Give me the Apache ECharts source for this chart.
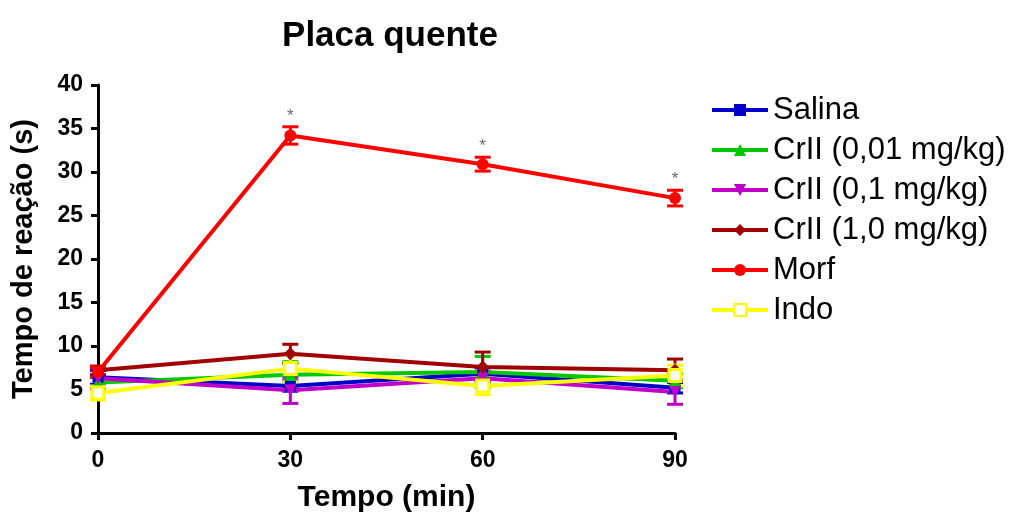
<!DOCTYPE html>
<html>
<head>
<meta charset="utf-8">
<script src="https://cdn.jsdelivr.net/npm/echarts@6/dist/echarts.min.js"></script>
<style>
  html, body { margin: 0; padding: 0; background: #fff; }
  #chart { width: 1019px; height: 518px; }
</style>
</head>
<body>
<div id="chart"></div>
<script>
// Time points (min)
const times = [0, 30, 60, 90];
const yTicks = [0, 5, 10, 15, 20, 25, 30, 35, 40];

// Mean reaction time (s) and SEM per group
const salina = [6.4, 5.4, 6.8, 5.2];
const salinaErr = [0.8, 0.6, 0.7, 0.6];
const crii001 = [5.8, 6.7, 7.0, 6.0];
const crii001Err = [0.6, 1.5, 1.8, 0.8];
const crii01 = [6.3, 4.9, 6.3, 4.7];
const crii01Err = [1.2, 1.5, 0.8, 1.4];
const crii10 = [7.2, 9.1, 7.6, 7.2];
const crii10Err = [0.5, 1.1, 1.7, 1.3];
const morf = [7.0, 34.2, 30.9, 27.0];
const morfErr = [0.6, 1.0, 0.8, 0.9];
const indo = [4.6, 7.4, 5.4, 6.6];
const indoErr = [0.8, 1.5, 1.0, 1.2];
// Significance marks above Morf
const morfSig = ['', '*', '*', '*'];

const groups = [
  { name: 'Salina', mean: salina, err: salinaErr, color: '#0000c8', symbol: 'rect', size: 11 },
  { name: 'CrII (0,01 mg/kg)', mean: crii001, err: crii001Err, color: '#00c800', symbol: 'triangle', size: 12 },
  { name: 'CrII (0,1 mg/kg)', mean: crii01, err: crii01Err, color: '#c000c8', symbol: 'triangle', size: 12, rotate: 180 },
  { name: 'CrII (1,0 mg/kg)', mean: crii10, err: crii10Err, color: '#a00000', symbol: 'diamond', size: 13 },
  { name: 'Morf', mean: morf, err: morfErr, color: '#ff0000', symbol: 'circle', size: 12 },
  { name: 'Indo', mean: indo, err: indoErr, color: '#ffff00', symbol: 'rect', size: 12, hollow: true }
];

const series = [];
groups.forEach(function (g) {
  // error bars with caps
  series.push({
    type: 'custom',
    name: g.name + ' SEM',
    silent: true,
    z: 2,
    data: times.map(function (t, i) { return [t, g.mean[i] - g.err[i], g.mean[i] + g.err[i]]; }),
    renderItem: function (params, api) {
      const lo = api.coord([api.value(0), api.value(1)]);
      const hi = api.coord([api.value(0), api.value(2)]);
      const cap = 8;
      const st = { stroke: g.color, lineWidth: 3 };
      return {
        type: 'group',
        children: [
          { type: 'line', shape: { x1: lo[0], y1: lo[1], x2: hi[0], y2: hi[1] }, style: st },
          { type: 'line', shape: { x1: lo[0] - cap, y1: lo[1], x2: lo[0] + cap, y2: lo[1] }, style: st },
          { type: 'line', shape: { x1: hi[0] - cap, y1: hi[1], x2: hi[0] + cap, y2: hi[1] }, style: st }
        ]
      };
    }
  });
  series.push({
    type: 'line',
    name: g.name,
    z: 3,
    data: times.map(function (t, i) { return [t, g.mean[i]]; }),
    symbol: g.symbol,
    symbolSize: g.size,
    symbolRotate: g.rotate || 0,
    showAllSymbol: true,
    lineStyle: { color: g.color, width: 4 },
    itemStyle: g.hollow
      ? { color: '#ffffff', borderColor: g.color, borderWidth: 3 }
      : { color: g.color },
    emphasis: { disabled: true }
  });
});

// asterisks above the Morf error bars
series.push({
  type: 'scatter',
  name: 'sig',
  silent: true,
  symbolSize: 0,
  z: 5,
  data: times.map(function (t, i) { return [t, morf[i] + morfErr[i]]; }),
  label: {
    show: true,
    position: 'top',
    distance: 2,
    color: '#444',
    fontSize: 17,
    fontFamily: 'Liberation Sans, Arial, sans-serif',
    formatter: function (p) { return morfSig[p.dataIndex]; }
  }
});

const chart = echarts.init(document.getElementById('chart'));
chart.setOption({
  animation: false,
  backgroundColor: '#ffffff',
  textStyle: { fontFamily: 'Liberation Sans, Arial, sans-serif' },
  title: {
    text: 'Placa quente',
    left: 385,
    top: 14,
    textAlign: 'center',
    textStyle: { fontSize: 35, fontWeight: 'bold', color: '#000' }
  },
  grid: { left: 98, right: 344, top: 85, bottom: 83 },
  legend: {
    data: groups.map(function (g) { return g.name; }),
    orient: 'vertical',
    left: 705,
    top: 89,
    itemWidth: 56,
    itemHeight: 15,
    itemGap: 8,
    selectedMode: false,
    lineStyle: { width: 4 },
    textStyle: { fontSize: 31, lineHeight: 32, color: '#000', padding: [0, 0, 0, 0] }
  },
  xAxis: {
    type: 'value',
    min: 0,
    max: 90,
    interval: 30,
    name: 'Tempo (min)',
    nameLocation: 'middle',
    nameGap: 50,
    nameTextStyle: { fontSize: 30, fontWeight: 'bold', color: '#000' },
    axisLine: { show: true, onZero: false, lineStyle: { color: '#000', width: 3 } },
    axisTick: { show: true, length: 7, lineStyle: { color: '#000', width: 3 } },
    axisLabel: {
      fontSize: 23, fontWeight: 'bold', color: '#000', margin: 16,
      formatter: function (v) { return String(times[times.indexOf(v)]); }
    },
    splitLine: { show: false }
  },
  yAxis: {
    type: 'value',
    min: 0,
    max: 40,
    interval: 5,
    name: 'Tempo de reação (s)',
    nameLocation: 'middle',
    nameGap: 60,
    nameTextStyle: { fontSize: 29, fontWeight: 'bold', color: '#000' },
    axisLine: { show: true, lineStyle: { color: '#000', width: 3 } },
    axisTick: { show: true, length: 7, lineStyle: { color: '#000', width: 3 } },
    axisLabel: {
      fontSize: 23, fontWeight: 'bold', color: '#000', margin: 15,
      formatter: function (v) { return String(yTicks[yTicks.indexOf(v)]); }
    },
    splitLine: { show: false }
  },
  series: series
});
</script>
</body>
</html>
